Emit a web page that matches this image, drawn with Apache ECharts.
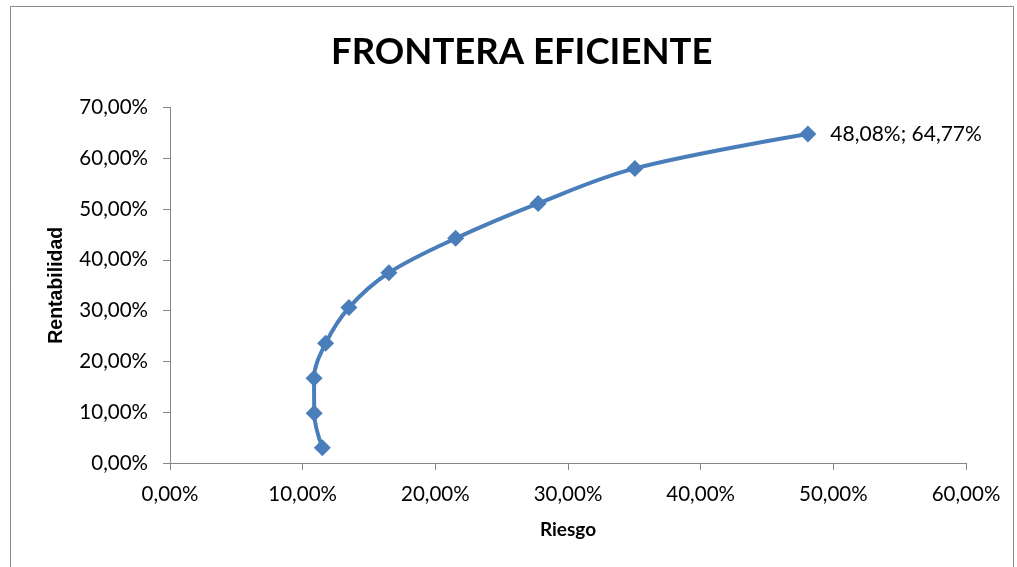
<!DOCTYPE html>
<html>
<head>
<meta charset="utf-8">
<script src="https://cdn.jsdelivr.net/npm/echarts@6/dist/echarts.min.js"></script>
<style>
html,body{margin:0;padding:0;background:#fff;}
#c{width:1017px;height:567px;}
</style>
</head>
<body>
<div id="c"></div>
<script>
// Riesgo (x, %) and Rentabilidad (y, %)
const riesgo = [11.48, 10.87, 10.86, 11.73, 13.49, 16.50, 21.53, 27.75, 35.04, 48.08];
const rentabilidad = [3.02, 9.80, 16.68, 23.56, 30.60, 37.46, 44.23, 51.12, 58.01, 64.77];
const xTicks = [0, 10, 20, 30, 40, 50, 60];
const yTicks = [0, 10, 20, 30, 40, 50, 60, 70];
const titleText = 'FRONTERA EFICIENTE';
const xName = 'Riesgo';
const yName = 'Rentabilidad';

const fmt = v => v.toFixed(2).replace('.', ',') + '%';
const data = riesgo.map((x, i) => [x, rentabilidad[i]]);
const lastIdx = data.length - 1;

const chart = echarts.init(document.getElementById('c'), null, {renderer: 'canvas'});
const axisColor = '#868686';
const font = 'Lato, "Open Sans", sans-serif';
chart.setOption({
  animation: false,
  backgroundColor: '#fff',
  graphic: [{
    type: 'rect',
    shape: {x: 10.5, y: 6.5, width: 1003, height: 580},
    style: {fill: 'none', stroke: '#8c8c8c', lineWidth: 1},
    silent: true
  }],
  title: {
    text: titleText,
    left: 326,
    top: 29,
    textStyle: {fontFamily: font, fontWeight: 'bold', fontSize: 36.5, color: '#000'}
  },
  grid: {left: 170, right: 51, top: 107.5, bottom: 104, containLabel: false},
  xAxis: {
    type: 'value',
    min: xTicks[0], max: xTicks[xTicks.length - 1], interval: 10,
    name: xName, nameLocation: 'middle', nameGap: 57,
    nameTextStyle: {fontFamily: font, fontWeight: 'bold', fontSize: 19, color: '#000'},
    axisLine: {show: true, lineStyle: {color: axisColor, width: 1}},
    axisTick: {show: true, inside: false, length: 7, lineStyle: {color: axisColor}},
    axisLabel: {margin: 21, formatter: fmt, fontFamily: font, fontSize: 20.5, color: '#000'},
    splitLine: {show: false}
  },
  yAxis: {
    type: 'value',
    min: yTicks[0], max: yTicks[yTicks.length - 1], interval: 10,
    name: yName, nameLocation: 'middle', nameGap: 103, nameRotate: 90,
    nameTextStyle: {fontFamily: 'Liberation Sans, Arial, sans-serif', fontWeight: 'bold', fontSize: 19.5, color: '#000'},
    axisLine: {show: true, lineStyle: {color: axisColor, width: 1}},
    axisTick: {show: true, inside: false, length: 7, lineStyle: {color: axisColor}},
    axisLabel: {margin: 22, formatter: fmt, fontFamily: font, fontSize: 20.5, color: '#000'},
    splitLine: {show: false}
  },
  series: [{
    type: 'line',
    data: data.map((d, i) => i === lastIdx ? {
      value: d,
      label: {
        show: true, position: 'right', distance: 14,
        formatter: p => fmt(p.value[0]) + '; ' + fmt(p.value[1]),
        fontFamily: font, fontSize: 21, color: '#000'
      }
    } : d),
    smooth: 0.35,
    symbol: 'diamond',
    symbolSize: 17,
    lineStyle: {color: '#4A7EBB', width: 4},
    itemStyle: {color: '#4A7EBB'}
  }]
});
</script>
</body>
</html>
